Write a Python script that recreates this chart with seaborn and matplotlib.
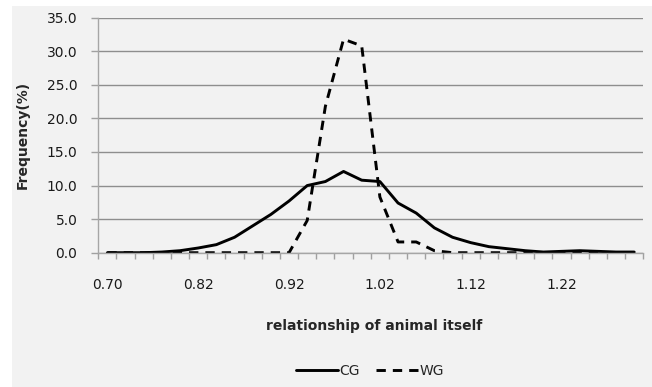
import numpy as np
import pandas as pd
import seaborn as sns
import matplotlib
matplotlib.use("Agg")
import matplotlib.pyplot as plt
from matplotlib.patches import Rectangle
from matplotlib.lines import Line2D

# ---- data ----
categories = ["0.70", "0.74", "0.76", "0.78", "0.80", "0.82", "0.84", "0.86", "0.88", "0.90",
              "0.92", "0.94", "0.96", "0.98", "1.00", "1.02", "1.04", "1.06", "1.08", "1.10",
              "1.12", "1.14", "1.16", "1.18", "1.20", "1.22", "1.24", "1.26", "1.28", "1.30"]
cg = [0.0, 0.0, 0.0, 0.1, 0.3, 0.7, 1.2, 2.3, 4.0, 5.7,
      7.7, 10.0, 10.6, 12.1, 10.8, 10.6, 7.4, 5.9, 3.7, 2.3,
      1.5, 0.9, 0.6, 0.3, 0.1, 0.2, 0.3, 0.2, 0.1, 0.1]
wg = [0.0, 0.0, 0.0, 0.0, 0.0, 0.0, 0.0, 0.0, 0.0, 0.0,
      0.0, 4.8, 21.8, 31.8, 30.8, 8.3, 1.6, 1.6, 0.3, 0.0,
      0.0, 0.0, 0.0, 0.0, 0.0, 0.0, 0.0, 0.0, 0.0, 0.0]
series_names = ["CG", "WG"]
y_ticks = [0, 5, 10, 15, 20, 25, 30, 35]
label_every = 5

df = pd.DataFrame({
    "pos": list(range(len(categories))) * 2,
    "value": cg + wg,
    "group": [series_names[0]] * len(cg) + [series_names[1]] * len(wg),
})

sns.set_theme(style="white")
plt.rcParams["font.family"] = ["DejaVu Sans"]

W, H = 652, 387
fig = plt.figure(figsize=(W / 100, H / 100), dpi=100)
fig.patch.set_facecolor("white")
bg = "#F2F2F2"
fig.patches.append(Rectangle((12 / W, 0), 1 - 12 / W, 1 - 6 / H, transform=fig.transFigure,
                             facecolor=bg, edgecolor="none", zorder=-10))

left, right = 98.3 / W, 643.3 / W
top, bottom = 1 - 17.7 / H, 1 - 252.7 / H
ax = fig.add_axes([left, bottom, right - left, top - bottom])
ax.set_facecolor(bg)

sns.lineplot(data=df, x="pos", y="value", hue="group", style="group",
             palette={"CG": "black", "WG": "black"},
             dashes={"CG": "", "WG": (3.2, 2.4)},
             linewidth=2.1, ax=ax, legend=False, sort=False)

n = len(categories)
ax.set_xlim(-0.5, n - 0.5)
ax.set_ylim(0, 35)
ax.set_yticks(y_ticks)
ax.set_yticklabels([f"{v:.1f}" for v in y_ticks], fontsize=10, color="#1a1a1a")
ax.set_xticks(np.arange(-0.5, n, 1.0))
ax.set_xticklabels([])
ax.set_xticks(list(range(0, n, label_every)), minor=True)
ax.set_xticklabels([categories[i] for i in range(0, n, label_every)], minor=True,
                   fontsize=10, color="#1a1a1a")
ax.tick_params(axis="x", which="major", direction="out", length=4, width=1, color="#A0A0A0", bottom=True)
ax.tick_params(axis="x", which="minor", length=0, pad=18, bottom=True)
ax.tick_params(axis="y", direction="out", length=5, width=1, color="#A0A0A0", left=True, pad=10)

ax.yaxis.grid(True, color="#8E8E8E", linewidth=1)
ax.xaxis.grid(False)
ax.set_axisbelow(True)
for s in ["top", "right"]:
    ax.spines[s].set_visible(False)
for s in ["left", "bottom"]:
    ax.spines[s].set_color("#A6A6A6")
    ax.spines[s].set_linewidth(1)

ax.set_xlabel("")
ax.set_ylabel("")
fig.text(23 / W, 1 - 135 / H, "Frequency(%)", rotation=90, ha="center", va="center",
         fontsize=10, fontweight="bold")
fig.text(374 / W, 1 - 326 / H, "relationship of animal itself", ha="center", va="center",
         fontsize=10, fontweight="bold")

handles = [Line2D([], [], color="black", linewidth=2.1),
           Line2D([], [], color="black", linewidth=2.1, dashes=(3.2, 2.4))]
fig.legend(handles, series_names, loc="center", bbox_to_anchor=(370 / W, 1 - 371 / H),
           ncol=2, frameon=False, fontsize=10, handlelength=3.0, handletextpad=0.1,
           columnspacing=1.2)

fig.savefig("out.png", dpi=100, facecolor="white")
